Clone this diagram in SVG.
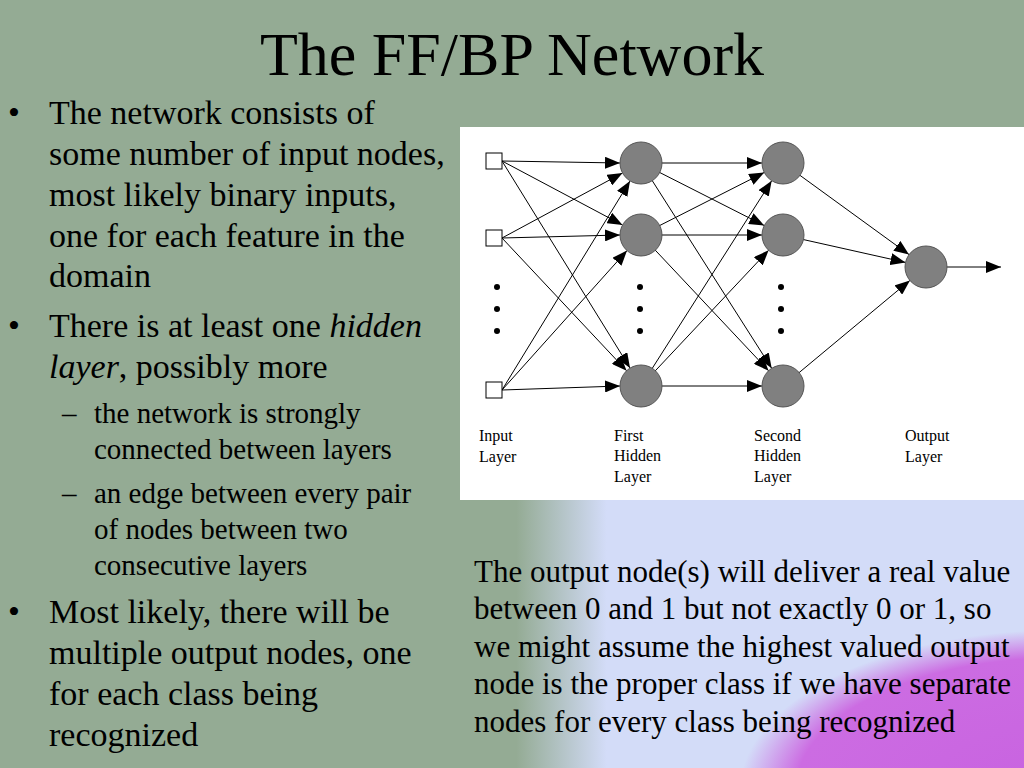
<svg xmlns="http://www.w3.org/2000/svg" width="1024" height="768" viewBox="0 0 1024 768">
<defs>
<marker id="ah" viewBox="0 0 10 8" refX="10" refY="4" markerWidth="15" markerHeight="12" markerUnits="userSpaceOnUse" orient="auto"><path d="M0,0 L10,4 L0,8 z" fill="#000"/></marker>
<linearGradient id="lg" x1="0" y1="0" x2="1" y2="0">
<stop offset="0" stop-color="#94AB94" stop-opacity="1"/>
<stop offset="0.1" stop-color="#94AB94" stop-opacity="1"/>
<stop offset="0.26" stop-color="#D3DCF8"/>
<stop offset="1" stop-color="#D3DCF8"/>
</linearGradient>
<radialGradient id="rg" cx="1060" cy="790" r="330" gradientUnits="userSpaceOnUse" gradientTransform="translate(1060 790) scale(1 0.5) translate(-1060 -790)">
<stop offset="0" stop-color="#C862E0"/>
<stop offset="0.8" stop-color="#CC6CE2"/>
<stop offset="0.97" stop-color="#CC6CE2" stop-opacity="0"/>
</radialGradient>
<style>
.t{font-family:"Liberation Serif",serif;fill:#000}
.b{font-size:34px}
.s{font-size:29px}
.r{font-size:31px}
.l{font-family:"Liberation Serif",serif;font-size:16px;fill:#000}
.e{stroke:#000;stroke-width:1;fill:none;marker-end:url(#ah)}
.n{fill:#808080;stroke:#555;stroke-width:1}
.i{fill:#fff;stroke:#000;stroke-width:1}
</style>
</defs>
<rect width="1024" height="768" fill="#94AB94"/>
<rect x="460" y="500" width="564" height="268" fill="url(#lg)"/>
<rect x="460" y="500" width="564" height="268" fill="url(#rg)"/>
<rect x="460" y="127" width="564" height="373" fill="#fff"/>
<text class="t" x="512" y="75" font-size="62" text-anchor="middle">The FF/BP Network</text>
<g class="t b">
<text x="8" y="124">•</text>
<text x="49" y="124">The network consists of</text>
<text x="49" y="165">some number of input nodes,</text>
<text x="49" y="206">most likely binary inputs,</text>
<text x="49" y="247">one for each feature in the</text>
<text x="49" y="287">domain</text>
<text x="8" y="337">•</text>
<text x="49" y="337">There is at least one <tspan font-style="italic">hidden</tspan></text>
<text x="49" y="378"><tspan font-style="italic">layer</tspan>, possibly more</text>
<text x="8" y="623">•</text>
<text x="49" y="623">Most likely, there will be</text>
<text x="49" y="664">multiple output nodes, one</text>
<text x="49" y="705">for each class being</text>
<text x="49" y="746">recognized</text>
</g>
<g class="t s">
<text x="62" y="423">–</text>
<text x="94" y="423">the network is strongly</text>
<text x="94" y="459">connected between layers</text>
<text x="62" y="503">–</text>
<text x="94" y="503">an edge between every pair</text>
<text x="94" y="539">of nodes between two</text>
<text x="94" y="575">consecutive layers</text>
</g>
<g class="t r">
<text x="474" y="582">The output node(s) will deliver a real value</text>
<text x="474" y="619">between 0 and 1 but not exactly 0 or 1, so</text>
<text x="474" y="657">we might assume the highest valued output</text>
<text x="474" y="694">node is the proper class if we have separate</text>
<text x="474" y="732">nodes for every class being recognized</text>
</g>
<g id="connectors">
<line class="e" x1="502" y1="161" x2="620" y2="163"/>
<line class="e" x1="502" y1="161" x2="622.5" y2="225"/>
<line class="e" x1="502" y1="161" x2="630" y2="368"/>
<line class="e" x1="502" y1="238" x2="622.5" y2="173"/>
<line class="e" x1="502" y1="238" x2="620" y2="235"/>
<line class="e" x1="502" y1="238" x2="626.6" y2="370.7"/>
<line class="e" x1="502" y1="390" x2="630" y2="181"/>
<line class="e" x1="502" y1="390" x2="627" y2="250.6"/>
<line class="e" x1="502" y1="390" x2="620" y2="386"/>
<line class="e" x1="641" y1="163" x2="762" y2="163"/>
<line class="e" x1="641" y1="163" x2="764.2" y2="225.5"/>
<line class="e" x1="641" y1="163" x2="771.7" y2="368.3"/>
<line class="e" x1="641" y1="235" x2="764.2" y2="172.5"/>
<line class="e" x1="641" y1="235" x2="762" y2="235"/>
<line class="e" x1="641" y1="235" x2="768.6" y2="370.7"/>
<line class="e" x1="641" y1="386" x2="771.7" y2="180.7"/>
<line class="e" x1="641" y1="386" x2="768.6" y2="250.3"/>
<line class="e" x1="641" y1="386" x2="762" y2="386"/>
<line class="e" x1="783" y1="163" x2="909" y2="254.6"/>
<line class="e" x1="783" y1="235" x2="905.5" y2="262.4"/>
<line class="e" x1="783" y1="386" x2="909.9" y2="280.4"/>
<line class="e" x1="926" y1="267" x2="1001" y2="267"/>
</g>
<g id="input-layer">
<rect class="i" x="486" y="153" width="16" height="16"/>
<rect class="i" x="486" y="230" width="16" height="16"/>
<rect class="i" x="486" y="382" width="16" height="16"/>
<circle cx="497" cy="287" r="3"/><circle cx="497" cy="309" r="3"/><circle cx="497" cy="331" r="3"/>
<text class="l" x="479" y="441">Input</text><text class="l" x="479" y="462">Layer</text>
</g>
<g id="hidden1">
<circle class="n" cx="641" cy="163" r="21"/>
<circle class="n" cx="641" cy="235" r="21"/>
<circle class="n" cx="641" cy="386" r="21"/>
<circle cx="640" cy="287" r="3"/><circle cx="640" cy="309" r="3"/><circle cx="640" cy="331" r="3"/>
<text class="l" x="614" y="441">First</text><text class="l" x="614" y="461">Hidden</text><text class="l" x="614" y="482">Layer</text>
</g>
<g id="hidden2">
<circle class="n" cx="783" cy="163" r="21"/>
<circle class="n" cx="783" cy="235" r="21"/>
<circle class="n" cx="783" cy="386" r="21"/>
<circle cx="781" cy="287" r="3"/><circle cx="781" cy="309" r="3"/><circle cx="781" cy="331" r="3"/>
<text class="l" x="754" y="441">Second</text><text class="l" x="754" y="461">Hidden</text><text class="l" x="754" y="482">Layer</text>
</g>
<g id="output">
<circle class="n" cx="926" cy="267" r="21"/>
<text class="l" x="905" y="441">Output</text><text class="l" x="905" y="462">Layer</text>
</g>
</svg>
